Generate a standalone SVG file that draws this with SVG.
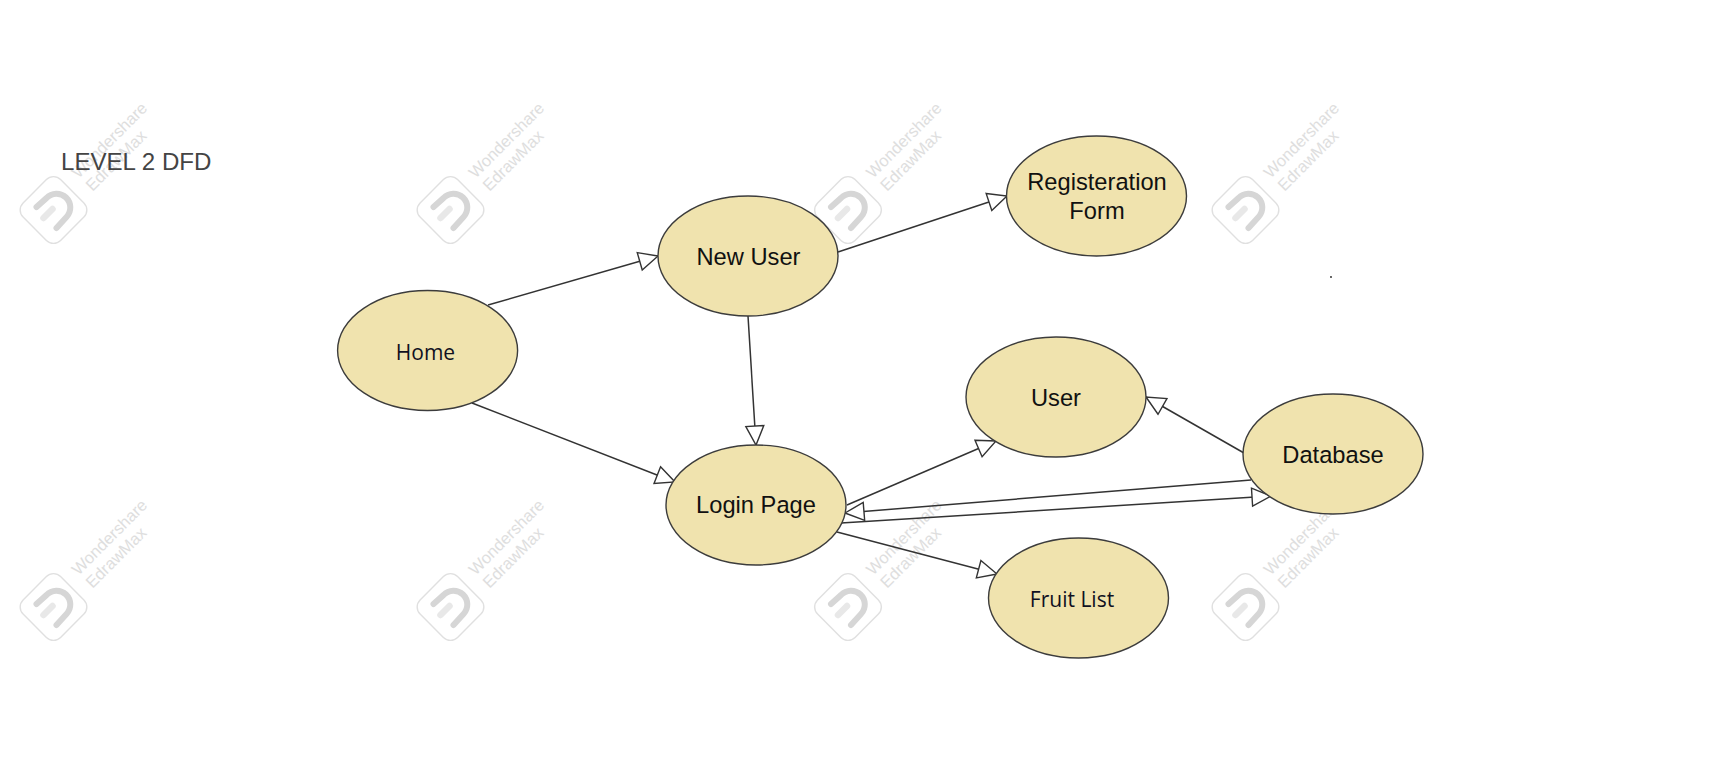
<svg xmlns="http://www.w3.org/2000/svg" width="1715" height="758" viewBox="0 0 1715 758">
<style>
.n{fill:#f0e3ae;stroke:#3c3c3c;stroke-width:1.4}
.t{font-family:"Liberation Sans",Arial,sans-serif;font-size:23.7px;fill:#111;text-anchor:middle}
.c{font-family:"Open Sans","Noto Sans",sans-serif;font-size:21px;fill:#11111f;text-anchor:middle}
.l{fill:none;stroke:#333;stroke-width:1.5;marker-end:url(#a)}
.w{font-family:"Liberation Sans",Arial,sans-serif;font-size:16.5px;fill:#dedede}
</style>
<defs>
<marker id="a" markerUnits="userSpaceOnUse" markerWidth="24" markerHeight="24" refX="19" refY="10" orient="auto" viewBox="-2 0 24 20"><path d="M0,1 L19,10 L0,19 Z" fill="#fff" stroke="#333" stroke-width="1.4"/></marker>
<g id="wm">
<rect x="-26.5" y="-26.5" width="53" height="53" rx="10" transform="rotate(45)" fill="#fff" stroke="#e0e0e0" stroke-width="1.4"/>
<path d="M-17,-3 L-7,-12 A13.5,13.5 0 0 1 13,7 L3,18" fill="none" stroke="#d6d6d6" stroke-width="6" stroke-linecap="round"/>
<path d="M-10,8 L-1,-1" fill="none" stroke="#e8e8e8" stroke-width="6.5" stroke-linecap="round"/>
<text class="w" transform="translate(25,-31) rotate(-45)">Wondershare</text>
<text class="w" transform="translate(39,-18) rotate(-45)">EdrawMax</text>
</g>
</defs>
<rect width="1715" height="758" fill="#fff"/>
<g id="watermarks">
<use href="#wm" x="53.5" y="210"/><use href="#wm" x="450.5" y="210"/><use href="#wm" x="848" y="210"/><use href="#wm" x="1245.5" y="210"/>
<use href="#wm" x="53.5" y="607"/><use href="#wm" x="450.5" y="607"/><use href="#wm" x="848" y="607"/><use href="#wm" x="1245.5" y="607"/>
</g>
<text id="title" x="61" y="169.5" font-family="'Liberation Sans',Arial,sans-serif" font-size="24.1" fill="#444">LEVEL 2 DFD</text>
<circle id="dot" cx="1331" cy="277" r="0.9" fill="#222"/>
<g id="connectors">
<path class="l" d="M488,305 L658,256"/>
<path class="l" d="M472,403 L675,482"/>
<path class="l" d="M748,316 L756,445"/>
<path class="l" d="M838,252 L1007,196"/>
<path class="l" d="M847,505 L996,441"/>
<path class="l" d="M841,523 L1271,496"/>
<path class="l" d="M1251,480 L845,513"/>
<path class="l" d="M837,532 L997,574"/>
<path class="l" d="M1244,453 L1146,397"/>
</g>
<g id="home"><ellipse class="n" cx="427.6" cy="350.5" rx="90" ry="60"/><text class="c" x="425.5" y="360">Home</text></g>
<g id="new-user"><ellipse class="n" cx="748" cy="256" rx="90" ry="60"/><text class="t" x="748.5" y="265">New User</text></g>
<g id="registeration-form"><ellipse class="n" cx="1096.5" cy="196" rx="90" ry="60"/><text class="t" x="1097" y="190">Registeration</text><text class="t" x="1097" y="219">Form</text></g>
<g id="login-page"><ellipse class="n" cx="756" cy="505" rx="90" ry="60"/><text class="t" x="756" y="512.5">Login Page</text></g>
<g id="user"><ellipse class="n" cx="1056" cy="397" rx="90" ry="60"/><text class="t" x="1056" y="406">User</text></g>
<g id="database"><ellipse class="n" cx="1333" cy="454" rx="90" ry="60"/><text class="t" x="1333" y="463">Database</text></g>
<g id="fruit-list"><ellipse class="n" cx="1078.5" cy="598" rx="90" ry="60"/><text class="c" x="1072" y="606.5">Fruit List</text></g>
</svg>
